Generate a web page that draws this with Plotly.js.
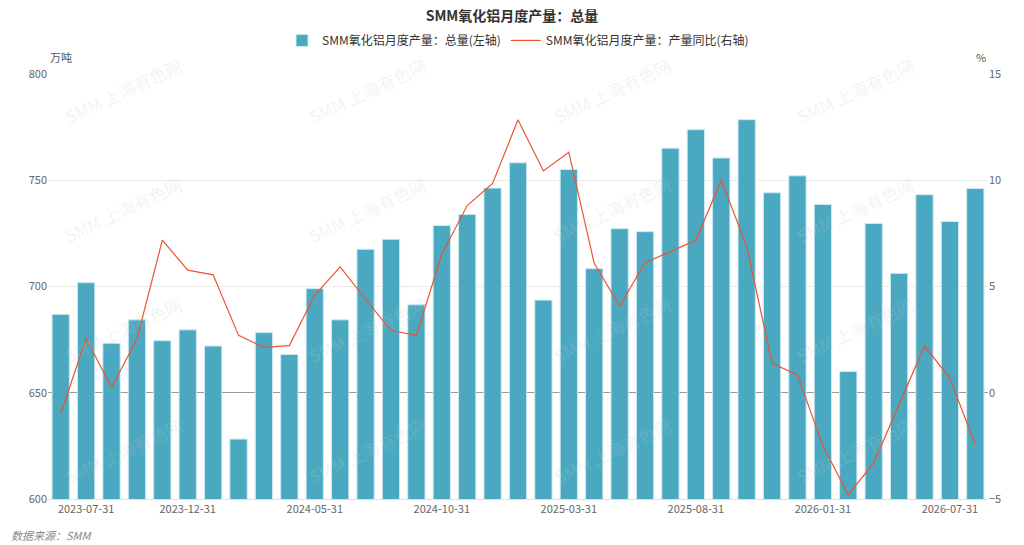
<!DOCTYPE html>
<html>
<head>
<meta charset="utf-8">
<script src="https://cdn.plot.ly/plotly-3.0.1.min.js"></script>
<style>
  html, body { margin: 0; padding: 0; background: #ffffff; }
  #chart { width: 1024px; height: 545px; }
</style>
</head>
<body>
<div id="chart"></div>
<script>
// month-end dates, one per bar
const categories = [
    '2023-06-30', '2023-07-31', '2023-08-31', '2023-09-30', '2023-10-31',
    '2023-12-31', '2024-01-31', '2024-02-29', '2024-03-31', '2024-04-30',
    '2024-05-31', '2024-06-30', '2024-07-31', '2024-08-31', '2024-09-30',
    '2024-10-31', '2024-11-30', '2024-12-31', '2025-01-31', '2025-02-28',
    '2025-03-31', '2025-04-30', '2025-05-31', '2025-06-30', '2025-07-31',
    '2025-08-31', '2025-09-30', '2025-10-31', '2025-11-30', '2025-12-31',
    '2026-01-31', '2026-03-31', '2026-04-30', '2026-05-31', '2026-06-30',
    '2026-07-31', '2026-08-31',
];

// 总量 (万吨), left axis
const totalOutput = [
    686.9, 701.8, 673.3, 684.3, 674.5,
    679.6, 672.0, 628.2, 678.3, 668.0,
    699.0, 684.3, 717.5, 722.2, 691.4,
    728.7, 733.9, 746.3, 758.2, 693.6,
    755.1, 708.4, 727.2, 725.8, 765.1,
    773.8, 760.5, 778.5, 744.1, 752.1,
    738.6, 660.0, 729.7, 706.2, 743.2,
    730.6, 746.1,
];

// 产量同比 (%), right axis
const yoyChange = [
    -0.99, 2.55, 0.25, 2.52, 7.18,
    5.77, 5.55, 2.70, 2.14, 2.22,
    4.60, 5.92, 4.40, 2.93, 2.70,
    6.52, 8.81, 9.85, 12.85, 10.44,
    11.32, 6.09, 4.08, 6.12, 6.64,
    7.18, 10.00, 6.90, 1.39, 0.84,
    -2.50, -4.80, -3.31, -0.55, 2.20,
    0.68, -2.45,
];

const tickLabels = [
    '2023-07-31', '2023-12-31', '2024-05-31', '2024-10-31',
    '2025-03-31', '2025-08-31', '2026-01-31', '2026-07-31',
];

const FONT = '"Noto Sans CJK SC", "Noto Sans", sans-serif';

const bars = {
    x: categories,
    y: totalOutput,
    type: 'bar',
    name: 'SMM氧化铝月度产量：总量(左轴)',
    yaxis: 'y',
    marker: {
        color: '#4aa8c1',
        line: { color: '#cde9f1', width: 1 },
    },
    hoverinfo: 'x+y',
};

const yoyLine = {
    x: categories,
    y: yoyChange,
    type: 'scatter',
    mode: 'lines',
    name: 'SMM氧化铝月度产量：产量同比(右轴)',
    yaxis: 'y2',
    line: { color: '#ec5430', width: 1.2 },
    hoverinfo: 'x+y',
};

// faint tiled watermark
const watermarks = [];
[0.080, 0.340, 0.600, 0.859].forEach((wx) => {
    [0.962, 0.680, 0.398, 0.115].forEach((wy) => {
        watermarks.push({
            text: 'SMM 上海有色网',
            xref: 'paper',
            yref: 'paper',
            x: wx,
            y: wy,
            xanchor: 'center',
            yanchor: 'middle',
            showarrow: false,
            textangle: -25,
            font: { family: FONT, size: 17, color: 'rgba(200,200,200,0.22)' },
        });
    });
});

const layout = {
    width: 1024,
    height: 545,
    font: { family: FONT, color: '#666666', size: 11 },
    paper_bgcolor: '#ffffff',
    plot_bgcolor: '#ffffff',
    margin: { l: 48, r: 36, t: 74, b: 46, pad: 0 },
    title: {
        text: '<b>SMM氧化铝月度产量：总量</b>',
        x: 0.5,
        xanchor: 'center',
        y: 0.970,
        yref: 'container',
        yanchor: 'middle',
        font: { family: FONT, size: 14, color: '#333333' },
    },
    showlegend: true,
    legend: {
        orientation: 'h',
        x: 0.5,
        xanchor: 'center',
        y: 1.079,
        yanchor: 'middle',
        font: { family: FONT, size: 12, color: '#333333' },
        itemwidth: 30,
        tracegroupgap: 0,
    },
    bargap: 0.32,
    xaxis: {
        type: 'category',
        tickmode: 'array',
        tickvals: tickLabels,
        ticktext: tickLabels,
        ticks: '',
        showgrid: false,
        showline: true,
        linecolor: '#e0e0e0',
        linewidth: 1,
        tickfont: { family: FONT, size: 11, color: '#666666' },
    },
    yaxis: {
        range: [600, 800],
        dtick: 50,
        showgrid: true,
        gridcolor: '#ebebeb',
        zeroline: false,
        ticks: '',
        tickfont: { family: FONT, size: 11, color: '#666666' },
    },
    yaxis2: {
        range: [-5, 15],
        dtick: 5,
        overlaying: 'y',
        side: 'right',
        showgrid: false,
        zeroline: true,
        zerolinecolor: '#9a9a9a',
        zerolinewidth: 1.4,
        ticks: '',
        tickfont: { family: FONT, size: 11, color: '#666666' },
    },
    annotations: [
        {
            text: '万吨',
            xref: 'paper',
            yref: 'paper',
            x: 0,
            y: 1.039,
            xanchor: 'left',
            yanchor: 'middle',
            showarrow: false,
            font: { family: FONT, size: 11, color: '#555555' },
        },
        {
            text: '%',
            xref: 'paper',
            yref: 'paper',
            x: 1,
            y: 1.039,
            xanchor: 'right',
            yanchor: 'middle',
            showarrow: false,
            font: { family: FONT, size: 11, color: '#555555' },
        },
        {
            text: '数据来源：SMM',
            xref: 'paper',
            yref: 'paper',
            x: -0.041,
            y: -0.084,
            xanchor: 'left',
            yanchor: 'middle',
            showarrow: false,
            font: { family: FONT, size: 11, color: '#888888', style: 'italic' },
        },
        ...watermarks,
    ],
};

Plotly.newPlot('chart', [bars, yoyLine], layout, { displayModeBar: false, staticPlot: true });
</script>
</body>
</html>
